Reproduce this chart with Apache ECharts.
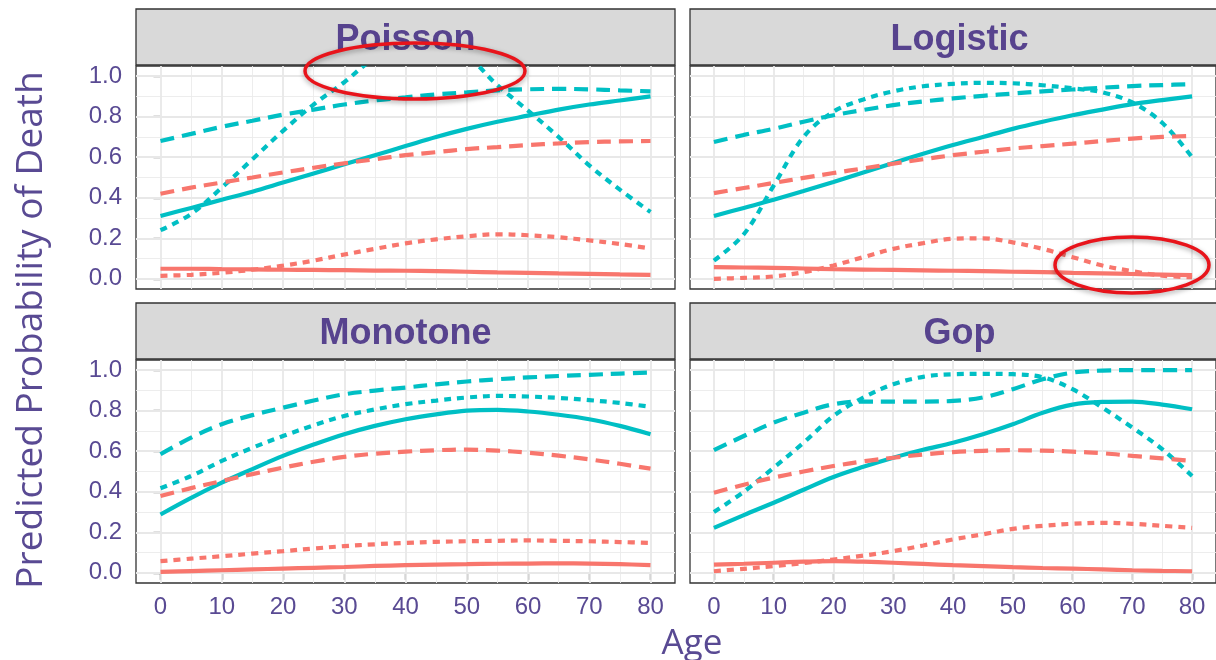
<!DOCTYPE html>
<html><head><meta charset="utf-8">
<script src="https://cdn.jsdelivr.net/npm/echarts@6/dist/echarts.min.js"></script>
<style>html,body{margin:0;padding:0;background:#fff}#c{width:1216px;height:660px}</style>
</head><body><div id="c"></div>
<script>
// ---------------- data ----------------
const ages = [0,5,10,15,20,25,30,35,40,45,50,55,60,65,70,75,80];
const panelNames = ['Poisson','Logistic','Monotone','Gop'];
const xTicks = [0,10,20,30,40,50,60,70,80];
const xMinor = [5,15,25,35,45,55,65,75];
const yTicks = [0,0.2,0.4,0.6,0.8,1.0];
const yMinor = [0.1,0.3,0.5,0.7,0.9];
const xTitle = 'Age';
const yTitle = 'Predicted Probability of Death';

// Poisson
const poissonTealSolid   = [0.31,0.35,0.39,0.43,0.475,0.52,0.565,0.61,0.655,0.70,0.74,0.775,0.805,0.835,0.86,0.88,0.90];
const poissonTealDashed  = [0.68,0.715,0.75,0.78,0.81,0.835,0.86,0.88,0.895,0.91,0.92,0.93,0.935,0.937,0.935,0.93,0.925];
const poissonTealDotted  = [0.24,0.32,0.45,0.59,0.73,0.86,0.97,1.09,1.15,1.16,1.10,0.955,0.83,0.70,0.56,0.44,0.33];
const poissonRedSolid    = [0.05,0.05,0.048,0.047,0.045,0.044,0.043,0.041,0.04,0.038,0.035,0.032,0.03,0.027,0.025,0.022,0.02];
const poissonRedDashed   = [0.42,0.45,0.475,0.50,0.525,0.548,0.57,0.59,0.61,0.625,0.64,0.65,0.66,0.668,0.675,0.678,0.68];
const poissonRedDotted   = [0.015,0.02,0.03,0.045,0.065,0.09,0.12,0.148,0.175,0.195,0.21,0.22,0.215,0.205,0.19,0.172,0.15];
// Logistic
const logisticTealSolid  = [0.31,0.35,0.39,0.433,0.478,0.525,0.572,0.617,0.66,0.70,0.74,0.775,0.807,0.835,0.862,0.882,0.90];
const logisticTealDashed = [0.675,0.71,0.74,0.775,0.807,0.833,0.857,0.875,0.89,0.903,0.914,0.925,0.934,0.943,0.951,0.956,0.96];
const logisticTealDotted = [0.09,0.22,0.46,0.70,0.825,0.885,0.925,0.95,0.962,0.967,0.965,0.955,0.94,0.92,0.87,0.77,0.60];
const logisticRedSolid   = [0.058,0.056,0.054,0.051,0.048,0.046,0.044,0.042,0.04,0.038,0.035,0.033,0.03,0.027,0.024,0.021,0.018];
const logisticRedDashed  = [0.423,0.448,0.473,0.498,0.522,0.545,0.568,0.59,0.61,0.627,0.643,0.655,0.667,0.68,0.692,0.70,0.705];
const logisticRedDotted  = [0.0,0.005,0.012,0.033,0.066,0.107,0.148,0.176,0.198,0.2,0.18,0.148,0.107,0.066,0.038,0.016,0.008];
// Monotone
const monotoneTealSolid  = [0.288,0.37,0.445,0.512,0.577,0.633,0.684,0.725,0.758,0.782,0.80,0.804,0.796,0.78,0.758,0.725,0.684];
const monotoneTealDashed = [0.585,0.667,0.733,0.778,0.815,0.85,0.881,0.899,0.914,0.93,0.944,0.955,0.964,0.971,0.977,0.983,0.988];
const monotoneTealDotted = [0.417,0.478,0.552,0.617,0.675,0.728,0.774,0.806,0.832,0.85,0.865,0.873,0.87,0.863,0.852,0.838,0.819];
const monotoneRedSolid   = [0.005,0.009,0.013,0.017,0.021,0.025,0.029,0.034,0.038,0.041,0.043,0.045,0.046,0.047,0.046,0.043,0.038];
const monotoneRedDashed  = [0.379,0.418,0.453,0.487,0.519,0.548,0.572,0.588,0.598,0.605,0.608,0.603,0.593,0.578,0.56,0.538,0.514];
const monotoneRedDotted  = [0.058,0.07,0.082,0.095,0.107,0.12,0.132,0.141,0.148,0.153,0.156,0.158,0.16,0.158,0.156,0.152,0.148];
// Gop
const gopTealSolid       = [0.222,0.285,0.346,0.41,0.473,0.523,0.568,0.607,0.642,0.684,0.733,0.79,0.83,0.843,0.845,0.83,0.807];
const gopTealDashed      = [0.605,0.675,0.741,0.79,0.832,0.845,0.845,0.845,0.848,0.865,0.906,0.955,0.988,0.998,1.0,1.0,1.0];
const gopTealDotted      = [0.30,0.40,0.519,0.642,0.774,0.865,0.93,0.967,0.98,0.982,0.98,0.965,0.906,0.815,0.717,0.61,0.478];
const gopRedSolid        = [0.041,0.045,0.05,0.055,0.058,0.055,0.05,0.044,0.038,0.033,0.028,0.024,0.021,0.017,0.013,0.01,0.008];
const gopRedDashed       = [0.395,0.435,0.47,0.5,0.527,0.55,0.568,0.584,0.596,0.602,0.605,0.603,0.598,0.59,0.577,0.565,0.552];
const gopRedDotted       = [0.008,0.02,0.033,0.048,0.066,0.085,0.107,0.135,0.165,0.19,0.217,0.232,0.242,0.247,0.242,0.232,0.222];

// ---------------- styling / layout ----------------
const TEAL = '#00BFC4', SALMON = '#F8766D';
const PURPLE = '#594A93';
const STRIP_PURPLE = '#57438E';
const LW = 4.2;
const DASHED = [14, 8];
const DOTTED = [7, 6];

const panelData = [
  [poissonTealSolid, poissonTealDashed, poissonTealDotted, poissonRedSolid, poissonRedDashed, poissonRedDotted],
  [logisticTealSolid, logisticTealDashed, logisticTealDotted, logisticRedSolid, logisticRedDashed, logisticRedDotted],
  [monotoneTealSolid, monotoneTealDashed, monotoneTealDotted, monotoneRedSolid, monotoneRedDashed, monotoneRedDotted],
  [gopTealSolid, gopTealDashed, gopTealDotted, gopRedSolid, gopRedDashed, gopRedDotted]
];
const seriesColors = [TEAL, TEAL, TEAL, SALMON, SALMON, SALMON];
const seriesTypes = ['solid', DASHED, DOTTED, 'solid', DASHED, DOTTED];

const PW = 539, PH = 223;
const lefts = [136, 690, 136, 690];
const tops = [66, 66, 360, 360];
const STRIP_H = 56;
const TICK_FONT = '"Liberation Sans", Arial, sans-serif';

const grids = [], xAxes = [], yAxes = [], series = [], graphics = [];
for (let i = 0; i < 4; i++) {
  const isBottom = i >= 2, isLeft = i % 2 === 0;
  grids.push({left: lefts[i], top: tops[i], width: PW, height: PH, show: true,
    backgroundColor: '#fff', borderColor: '#333', borderWidth: 1.3, containLabel: false});
  xAxes.push({gridIndex: i, type: 'value', min: -4, max: 84, splitNumber: 9,
    axisLine: {show: false}, splitLine: {show: false},
    axisTick: {show: isBottom, customValues: xTicks, length: 7, lineStyle: {color: '#333', width: 1.3}},
    axisLabel: {show: isBottom, customValues: xTicks, margin: 12, color: PURPLE, fontSize: 24,
      fontFamily: TICK_FONT}});
  yAxes.push({gridIndex: i, type: 'value', min: -0.05, max: 1.05,
    axisLine: {show: false}, splitLine: {show: false},
    axisTick: {show: isLeft, customValues: yTicks, length: 7, lineStyle: {color: '#333', width: 1.3}},
    axisLabel: {show: isLeft, customValues: yTicks, margin: 14, color: PURPLE, fontSize: 24,
      fontFamily: TICK_FONT, formatter: v => v.toFixed(1)}});
  // grid lines through the axis scales (markLine)
  const gl = [];
  xMinor.forEach(v => gl.push({xAxis: v, lineStyle: {color: '#EBEBEB', width: 0.9, type: 'solid'}}));
  yMinor.forEach(v => gl.push({yAxis: v, lineStyle: {color: '#EBEBEB', width: 0.9, type: 'solid'}}));
  xTicks.forEach(v => gl.push({xAxis: v, lineStyle: {color: '#E8E8E8', width: 1.8, type: 'solid'}}));
  yTicks.forEach(v => gl.push({yAxis: v, lineStyle: {color: '#E8E8E8', width: 1.8, type: 'solid'}}));
  series.push({type: 'line', xAxisIndex: i, yAxisIndex: i, data: [], silent: true, z: 1,
    markLine: {silent: true, symbol: ['none', 'none'], z: 1, animation: false, label: {show: false},
      emphasis: {disabled: true}, data: gl}});
  panelData[i].forEach((arr, k) => {
    series.push({type: 'line', xAxisIndex: i, yAxisIndex: i, showSymbol: false, symbol: 'none',
      smooth: 0.35, clip: true, z: 3, silent: true,
      lineStyle: {color: seriesColors[k], width: LW, type: seriesTypes[k], cap: 'butt'},
      data: ages.map((a, j) => [a, arr[j]])});
  });
  // strip
  graphics.push({type: 'rect', z: 10, shape: {x: lefts[i], y: tops[i] - STRIP_H - 1, width: PW, height: STRIP_H},
    style: {fill: '#D9D9D9', stroke: '#333', lineWidth: 1.3}});
  graphics.push({type: 'text', z: 11, x: lefts[i] + PW / 2, y: tops[i] - STRIP_H / 2 + 2,
    style: {text: panelNames[i], font: 'bold 36px "Liberation Sans", Arial, sans-serif', fill: STRIP_PURPLE,
      align: 'center', verticalAlign: 'middle'}});
}
// axis titles
graphics.push({type: 'text', z: 11, x: 692, y: 644,
  style: {text: xTitle, font: '35px "Open Sans", sans-serif', fill: PURPLE, align: 'center', verticalAlign: 'middle'}});
graphics.push({type: 'text', z: 11, x: 31, y: 330, rotation: Math.PI / 2,
  style: {text: yTitle, font: '37px "Open Sans", sans-serif', fill: PURPLE, align: 'center', verticalAlign: 'middle'}});
// red annotation ellipses
graphics.push({type: 'ellipse', z: 20, shape: {cx: 415, cy: 71, rx: 110, ry: 28},
  style: {fill: 'none', stroke: '#E8141B', lineWidth: 3.5, shadowBlur: 5, shadowColor: 'rgba(0,0,0,0.35)', shadowOffsetY: 2}});
graphics.push({type: 'ellipse', z: 20, shape: {cx: 1132, cy: 265, rx: 77, ry: 28},
  style: {fill: 'none', stroke: '#E8141B', lineWidth: 3.5, shadowBlur: 5, shadowColor: 'rgba(0,0,0,0.35)', shadowOffsetY: 2}});

const chart = echarts.init(document.getElementById('c'), null, {renderer: 'canvas'});
chart.setOption({animation: false, backgroundColor: '#fff', grid: grids, xAxis: xAxes, yAxis: yAxes,
  series: series, graphic: {elements: graphics}});
</script></body></html>
